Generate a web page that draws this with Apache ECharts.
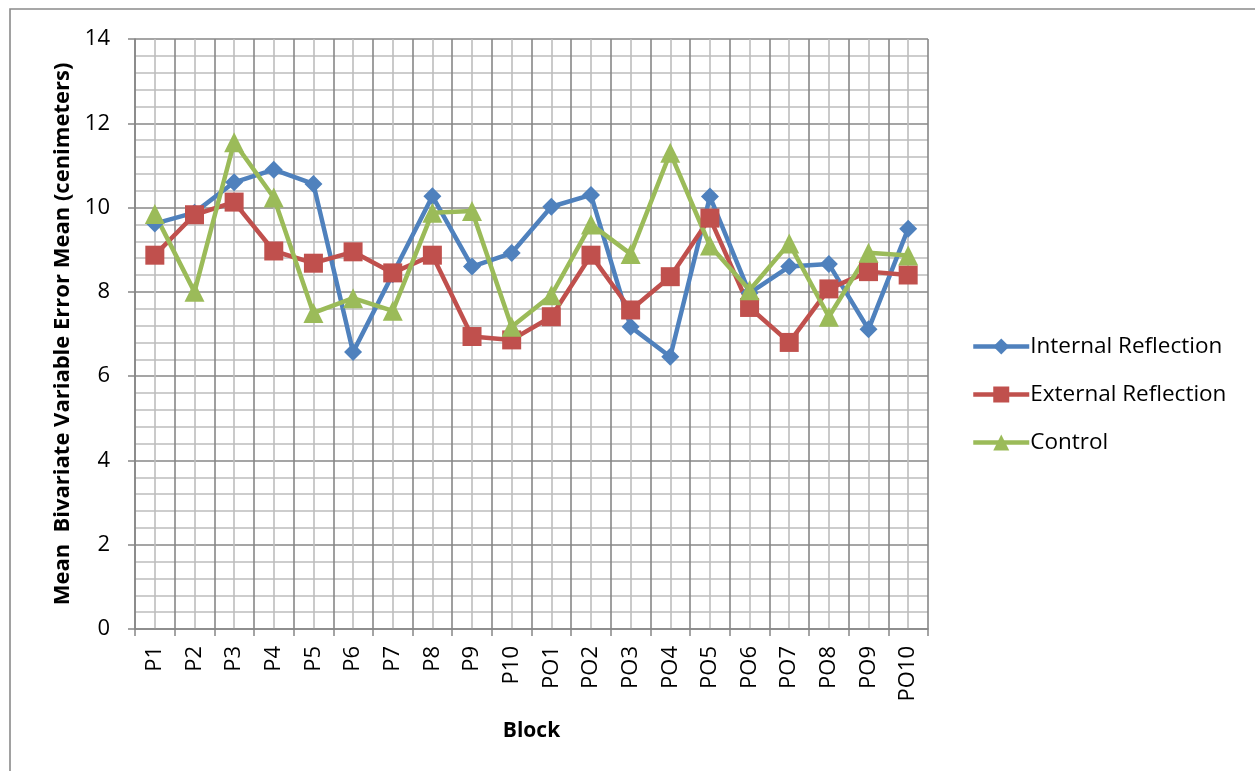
<!DOCTYPE html>
<html>
<head>
<meta charset="utf-8">
<script src="https://cdn.jsdelivr.net/npm/echarts@6/dist/echarts.min.js"></script>
<style>html,body{margin:0;padding:0;background:#fff;}#c{width:1255px;height:771px;}</style>
</head>
<body>
<div id="c"></div>
<script>
const categories = ['P1','P2','P3','P4','P5','P6','P7','P8','P9','P10','PO1','PO2','PO3','PO4','PO5','PO6','PO7','PO8','PO9','PO10'];
const internalReflection = [9.62, 9.88, 10.6, 10.9, 10.56, 6.57, 8.42, 10.27, 8.6, 8.92, 10.02, 10.3, 7.17, 6.46, 10.26, 7.97, 8.6, 8.66, 7.11, 9.5];
const externalReflection = [8.87, 9.83, 10.13, 8.97, 8.68, 8.95, 8.45, 8.87, 6.94, 6.86, 7.41, 8.87, 7.57, 8.36, 9.75, 7.63, 6.8, 8.07, 8.48, 8.4];
const control = [9.85, 8.0, 11.55, 10.24, 7.5, 7.85, 7.55, 9.88, 9.92, 7.17, 7.92, 9.6, 8.9, 11.3, 9.1, 8.04, 9.15, 7.41, 8.93, 8.86];
const yTicks = {min: 0, max: 14, interval: 2};

const FONT = 'Open Sans';
const chart = echarts.init(document.getElementById('c'), null, {renderer: 'canvas'});
const mk = (name, data, color, symbol, size) => ({
  name, type: 'line', data, xAxisIndex: 0, yAxisIndex: 0,
  symbol, symbolSize: size, showSymbol: true,
  lineStyle: {color, width: 4.5}, itemStyle: {color},
  emphasis: {disabled: true}, animation: false, z: 5
});
chart.setOption({
  animation: false,
  textStyle: {fontFamily: FONT},
  graphic: [{type: 'rect', shape: {x: 10, y: 9, width: 1400, height: 900}, style: {fill: 'none', stroke: '#8a8a8a', lineWidth: 1.6}, z: -10}],
  grid: {left: 135, top: 39, width: 793, height: 590, containLabel: false},
  legend: {
    orient: 'vertical', left: 966, top: 330, itemWidth: 56, itemHeight: 20, itemGap: 25,
    lineStyle: {width: 4.5},
    textStyle: {fontFamily: FONT, fontSize: 22.5, color: '#000', padding: [0,0,0,-4]},
    data: ['Internal Reflection', 'External Reflection', 'Control']
  },
  xAxis: [{
    type: 'category', data: categories, boundaryGap: true,
    name: 'Block', nameLocation: 'middle', nameGap: 92,
    nameTextStyle: {fontFamily: FONT, fontSize: 21, fontWeight: 'bold', color: '#000'},
    axisLine: {lineStyle: {color: '#868686', width: 1.5}},
    axisTick: {show: true, length: 7, alignWithLabel: false, lineStyle: {color: '#868686', width: 1.5}},
    axisLabel: {rotate: 90, margin: 17, fontFamily: FONT, fontSize: 22, color: '#000', interval: 0},
    splitLine: {show: false}
  }, {
    type: 'value', min: 0, max: 20, interval: 1, show: true, position: 'top',
    axisLine: {show: false}, axisTick: {show: false}, axisLabel: {show: false},
    splitLine: {show: true, lineStyle: {color: '#878787', width: 1.6}},
    minorTick: {show: false, splitNumber: 2},
    minorSplitLine: {show: true, lineStyle: {color: '#bdbdbd', width: 1.6}}
  }],
  yAxis: {
    type: 'value', min: yTicks.min, max: yTicks.max, interval: yTicks.interval,
    name: 'Mean  Bivariate Variable Error Mean (cenimeters)', nameLocation: 'middle', nameGap: 61,
    nameTextStyle: {fontFamily: FONT, fontSize: 22, fontWeight: 'bold', color: '#000'},
    axisLine: {show: true, lineStyle: {color: '#868686', width: 1.5}},
    axisTick: {show: true, length: 7, lineStyle: {color: '#868686', width: 1.5}},
    axisLabel: {margin: 25, fontFamily: FONT, fontSize: 22, color: '#000'},
    splitLine: {show: true, lineStyle: {color: '#878787', width: 1.6}},
    minorTick: {show: false, splitNumber: 5},
    minorSplitLine: {show: true, lineStyle: {color: '#bdbdbd', width: 1.6}}
  },
  series: [
    mk('Internal Reflection', internalReflection, '#4F81BD', 'diamond', 18),
    mk('External Reflection', externalReflection, '#C0504D', 'rect', 19),
    mk('Control', control, '#9BBB59', 'triangle', 20)
  ]
});
</script>
</body>
</html>
